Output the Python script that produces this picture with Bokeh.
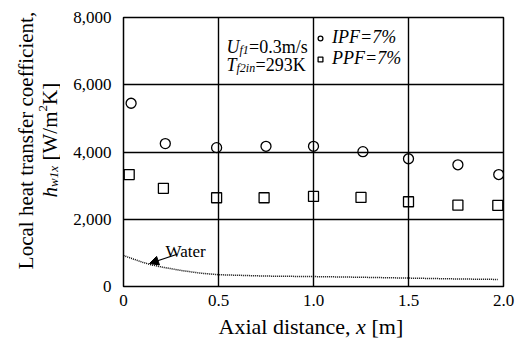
import math
from bokeh.plotting import figure
from bokeh.layouts import row, column
from bokeh.models import (FixedTicker, NumeralTickFormatter, Label, Arrow, NormalHead,
                          Legend, LegendItem, Range1d)
from bokeh.embed import file_html
from bokeh.resources import INLINE

# ---- data ----
ipf_x = [0.04, 0.22, 0.49, 0.75, 1.00, 1.26, 1.50, 1.76, 1.975]
ipf_y = [5450, 4250, 4130, 4170, 4170, 4010, 3800, 3620, 3330]
ppf_x = [0.03, 0.21, 0.49, 0.74, 1.00, 1.25, 1.50, 1.76, 1.97]
ppf_y = [3330, 2920, 2640, 2640, 2680, 2650, 2520, 2420, 2410]
water_x = [0.0, 0.05, 0.10, 0.15, 0.20, 0.30, 0.40, 0.50, 0.75, 1.00, 1.25, 1.50, 1.75, 1.97]
water_y = [920, 820, 720, 640, 580, 480, 400, 350, 310, 295, 275, 250, 225, 210]
x_ticks = [0, 0.5, 1.0, 1.5, 2.0]
x_tick_labels = ["0", "0.5", "1.0", "1.5", "2.0"]
y_ticks = [0, 2000, 4000, 6000, 8000]

SERIF = "Liberation Serif"
W, H = 520, 338
LEFT_W = 60
FL, FR, FT, FB = 123, 503, 17, 286   # plot frame in page pixels
MAIN_H = 308
A = math.pi / 2


def strip(w, h, xr, yr, **borders):
    f = figure(width=w, height=h, output_backend="svg", toolbar_location=None,
               x_range=Range1d(*xr), y_range=Range1d(*yr),
               x_axis_type=None, y_axis_type=None, **borders)
    f.grid.visible = False
    f.outline_line_color = None
    f.background_fill_color = "white"
    f.border_fill_color = "white"
    return f


def add_label(fig, text, x, y, size, style="normal", align="left",
              baseline="alphabetic", angle=0.0):
    fig.add_layout(Label(x=x, y=y, text=text, text_font=SERIF,
                         text_font_size=f"{size}px", text_font_style=style,
                         text_color="black", text_align=align,
                         text_baseline=baseline, angle=angle))


# ---------------- left strip: rotated y-axis title (page-pixel data space) ----------------
q = strip(LEFT_W, H, (0, LEFT_W), (H, 0),
          min_border_left=0, min_border_right=0, min_border_top=0, min_border_bottom=0)
add_label(q, "Local heat transfer coefficient,", 25, 140, 21, align="center",
          baseline="middle", angle=A)
add_label(q, "h", 49, 197, 21, "italic", baseline="middle", angle=A)
add_label(q, "w1x", 53, 186.5, 13, "italic", baseline="middle", angle=A)
add_label(q, "[W/m", 49, 160, 21, baseline="middle", angle=A)
add_label(q, "2", 42, 111, 13, baseline="middle", angle=A)
add_label(q, "K]", 49, 104.5, 21, baseline="middle", angle=A)

# ---------------- main plot ----------------
p = figure(width=W - LEFT_W, height=MAIN_H, output_backend="svg", toolbar_location=None,
           x_range=Range1d(0, 2.0), y_range=Range1d(0, 8000),
           min_border_left=FL - LEFT_W, min_border_right=W - FR, min_border_top=FT,
           min_border_bottom=MAIN_H - FB)


def dx(px):
    return (px - FL) / (FR - FL) * 2.0


def dy(py):
    return (FB - py) / (FB - FT) * 8000


p.outline_line_color = "black"
p.outline_line_width = 1.5
p.outline_line_alpha = 1.0
p.background_fill_color = "white"
p.border_fill_color = "white"

for ax in (p.xaxis[0], p.yaxis[0]):
    ax.axis_line_color = None
    ax.major_tick_line_color = None
    ax.minor_tick_line_color = None
    ax.major_label_text_font = SERIF
    ax.major_label_text_font_size = "17px"
    ax.major_label_text_color = "black"

p.xaxis[0].ticker = FixedTicker(ticks=x_ticks)
p.xaxis[0].major_label_overrides = dict(zip(x_ticks, x_tick_labels))
p.xaxis[0].major_label_standoff = 2
p.yaxis[0].ticker = FixedTicker(ticks=y_ticks)
p.yaxis[0].formatter = NumeralTickFormatter(format="0,0")
p.yaxis[0].major_label_standoff = 6

p.xgrid.ticker = FixedTicker(ticks=x_ticks)
p.ygrid.ticker = FixedTicker(ticks=y_ticks)
for g in (p.xgrid[0], p.ygrid[0]):
    g.grid_line_color = "black"
    g.grid_line_width = 1.4
    g.grid_line_alpha = 1.0

# water curve
p.line(water_x, water_y, line_color="black", line_width=1.5, line_dash="1 1")

# markers
r_ipf = p.scatter(ipf_x, ipf_y, marker="circle", size=10, fill_color=None,
                  line_color="black", line_width=1.3)
r_ppf = p.scatter(ppf_x, ppf_y, marker="square", size=10, fill_color=None,
                  line_color="black", line_width=1.3)

legend = Legend(items=[LegendItem(label="IPF=7%", renderers=[r_ipf]),
                       LegendItem(label="PPF=7%", renderers=[r_ppf])],
                location=(191, 217), orientation="vertical",
                glyph_width=12, glyph_height=12, label_height=19, label_standoff=6,
                spacing=0, padding=0, margin=0,
                border_line_color=None, background_fill_alpha=0,
                label_text_font=SERIF, label_text_font_style="italic",
                label_text_font_size="18px", label_text_color="black")
p.add_layout(legend, "center")

# condition annotation
add_label(p, "U", dx(226), dy(46), 18, "italic")
add_label(p, "f1", dx(239), dy(49), 12, "italic")
add_label(p, "=0.3m/s", dx(248.5), dy(46), 18)
add_label(p, "T", dx(226), dy(64), 18, "italic")
add_label(p, "f2in", dx(236), dy(67), 12, "italic")
add_label(p, "=293K", dx(255), dy(64), 18)

# water label and arrow
add_label(p, "Water", dx(165), dy(251), 17)
p.add_layout(Arrow(end=NormalHead(size=9, fill_color="black", line_color="black"),
                   x_start=dx(176), y_start=dy(254), x_end=dx(149), y_end=dy(263),
                   line_color="black", line_width=1.2))

# ---------------- bottom strip: x-axis title (page-pixel data space) ----------------
b = strip(W - LEFT_W, H - MAIN_H, (FL, FR), (H, MAIN_H),
          min_border_left=FL - LEFT_W, min_border_right=W - FR,
          min_border_top=0, min_border_bottom=0)
add_label(b, "Axial distance, ", 218, 326, 22)
add_label(b, "x", 355.5, 326, 22, "italic")
add_label(b, "[m]", 371, 326, 22)

layout = row(q, column(p, b, spacing=0), spacing=0)
open("out.html", "w").write(file_html(layout, INLINE))
